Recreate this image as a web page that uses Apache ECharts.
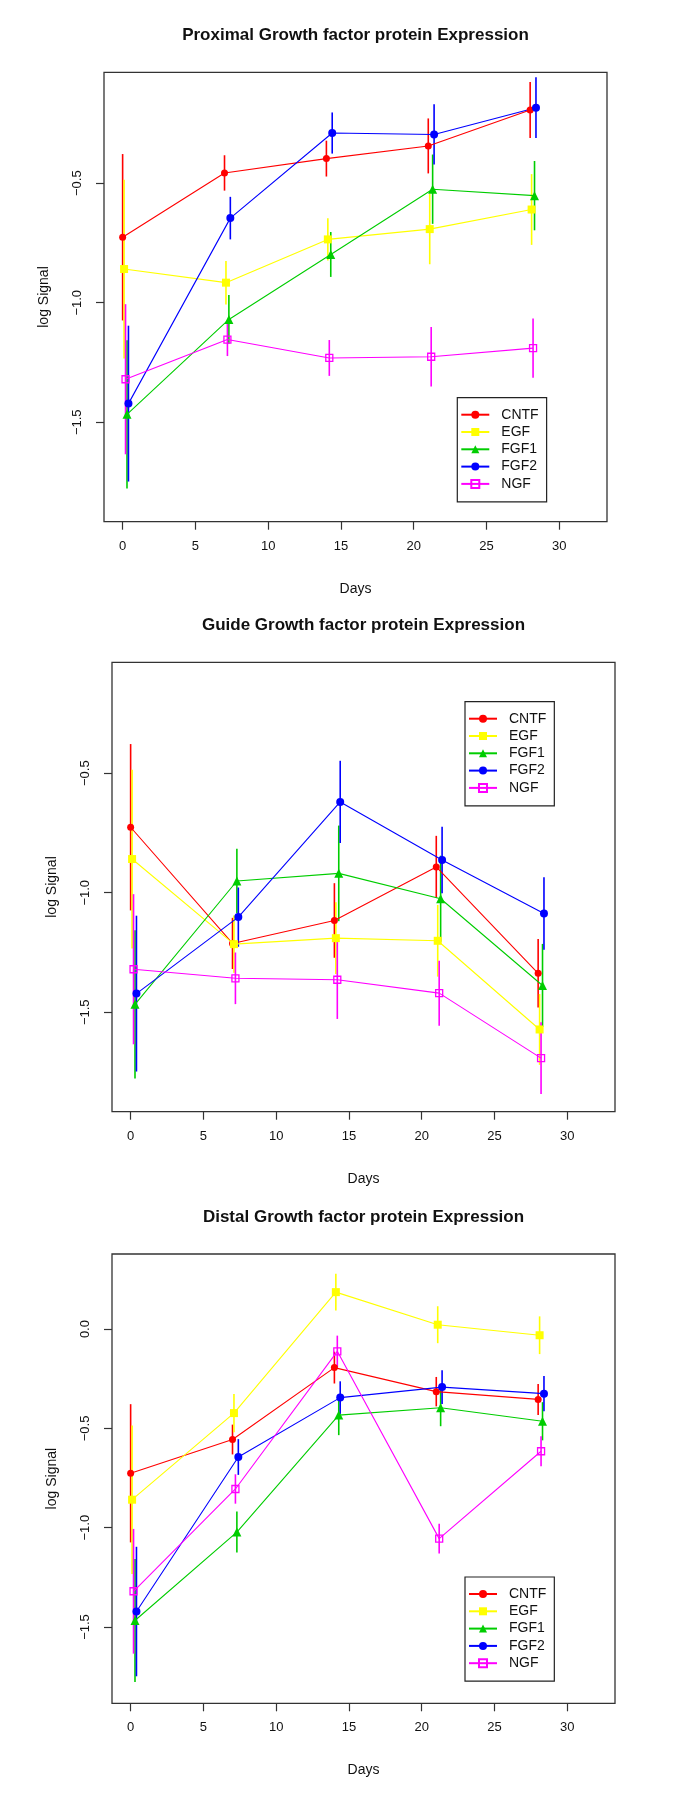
<!DOCTYPE html>
<html><head><meta charset="utf-8">
<script src="https://cdn.jsdelivr.net/npm/echarts@6/dist/echarts.min.js"></script>
<style>html,body{margin:0;padding:0;background:#fff}#c{width:685px;height:1810px}</style>
</head><body><div id="c"></div>
<script>
// ---------- data ----------
const genes = ['CNTF', 'EGF', 'FGF1', 'FGF2', 'NGF'];
const panelTitles = [
  'Proximal Growth factor protein Expression',
  'Guide Growth factor protein Expression',
  'Distal Growth factor protein Expression'
];
const xTicks = [0, 5, 10, 15, 20, 25, 30];
const yTicksProx = [-1.5, -1.0, -0.5];
const yTicksGuide = [-1.5, -1.0, -0.5];
const yTicksDist = [-1.5, -1.0, -0.5, 0.0];

// sampling days (each gene slightly offset in the original plot)
const xCNTF = [0, 7, 14, 21, 28];
const xEGF = [0.1, 7.1, 14.1, 21.1, 28.1];
const xFGF1 = [0.3, 7.3, 14.3, 21.3, 28.3];
const xFGF2 = [0.4, 7.4, 14.4, 21.4, 28.4];
const xNGF = [0.2, 7.2, 14.2, 21.2, 28.2];

// Proximal: mean log signal and error half-width
const proxCNTF = [-0.726, -0.457, -0.397, -0.344, -0.194];
const proxCNTFErr = [0.348, 0.074, 0.075, 0.115, 0.117];
const proxEGF = [-0.859, -0.916, -0.735, -0.692, -0.610];
const proxEGFErr = [0.374, 0.091, 0.088, 0.147, 0.148];
const proxFGF1 = [-1.467, -1.070, -0.798, -0.525, -0.552];
const proxFGF1Err = [0.310, 0.102, 0.094, 0.145, 0.145];
const proxFGF2 = [-1.422, -0.646, -0.290, -0.296, -0.184];
const proxFGF2Err = [0.326, 0.089, 0.086, 0.126, 0.127];
const proxNGF = [-1.320, -1.154, -1.231, -1.226, -1.190];
const proxNGFErr = [0.314, 0.069, 0.075, 0.124, 0.124];

// Guide
const guideCNTF = [-0.726, -1.212, -1.116, -0.892, -1.337];
const guideCNTFErr = [0.348, 0.107, 0.156, 0.130, 0.143];
const guideEGF = [-0.859, -1.215, -1.190, -1.201, -1.572];
const guideEGFErr = [0.374, 0.120, 0.150, 0.150, 0.148];
const guideFGF1 = [-1.467, -0.951, -0.919, -1.025, -1.388];
const guideFGF1Err = [0.310, 0.135, 0.200, 0.180, 0.174];
const guideFGF2 = [-1.422, -1.102, -0.620, -0.863, -1.087];
const guideFGF2Err = [0.326, 0.124, 0.172, 0.139, 0.152];
const guideNGF = [-1.320, -1.358, -1.364, -1.420, -1.692];
const guideNGFErr = [0.314, 0.108, 0.164, 0.136, 0.150];

// Distal
const distCNTF = [-0.726, -0.556, -0.194, -0.315, -0.354];
const distCNTFErr = [0.348, 0.075, 0.080, 0.074, 0.078];
const distEGF = [-0.859, -0.423, 0.186, 0.022, -0.031];
const distEGFErr = [0.374, 0.096, 0.092, 0.093, 0.095];
const distFGF1 = [-1.467, -1.022, -0.433, -0.396, -0.464];
const distFGF1Err = [0.310, 0.103, 0.101, 0.093, 0.096];
const distFGF2 = [-1.422, -0.644, -0.345, -0.292, -0.325];
const distFGF2Err = [0.326, 0.090, 0.082, 0.085, 0.089];
const distNGF = [-1.320, -0.805, -0.112, -1.055, -0.615];
const distNGFErr = [0.314, 0.074, 0.079, 0.075, 0.075];

// ---------- assembly ----------
const xs = [xCNTF, xEGF, xFGF1, xFGF2, xNGF];
const panels = [
  { means: [proxCNTF, proxEGF, proxFGF1, proxFGF2, proxNGF], errs: [proxCNTFErr, proxEGFErr, proxFGF1Err, proxFGF2Err, proxNGFErr], yTicks: yTicksProx },
  { means: [guideCNTF, guideEGF, guideFGF1, guideFGF2, guideNGF], errs: [guideCNTFErr, guideEGFErr, guideFGF1Err, guideFGF2Err, guideNGFErr], yTicks: yTicksGuide },
  { means: [distCNTF, distEGF, distFGF1, distFGF2, distNGF], errs: [distCNTFErr, distEGFErr, distFGF1Err, distFGF2Err, distNGFErr], yTicks: yTicksDist }
];

const FONT = 'Liberation Sans, Arial, sans-serif';
const colors = ['#FF0000', '#FFFF00', '#00CD00', '#0000FF', '#FF00FF'];
const symbols = ['circle', 'rect', 'triangle', 'circle', 'rect'];
const symSizes = [7, 8, 9, 8, 7];

const layout = [
  { left: 104, top: 72.3, width: 503, height: 449.4, yMin: -1.916, yMax: -0.036, titleY: 27, legL: 457.3, legT: 397.7 },
  { left: 112, top: 662.3, width: 503, height: 449.4, yMin: -1.916, yMax: -0.036, titleY: 617, legL: 465, legT: 701.7 },
  { left: 112, top: 1254, width: 503, height: 449.3, yMin: -1.884, yMax: 0.378, titleY: 1209, legL: 465, legT: 1577 }
];

const fmt = v => (Math.abs(v) < 1e-9 ? '0.0' : v.toFixed(1).replace('-', '\u2212'));

const option = {
  backgroundColor: '#ffffff',
  animation: false,
  title: [], grid: [], xAxis: [], yAxis: [], legend: [], series: []
};

panels.forEach((p, pi) => {
  const L = layout[pi];
  option.title.push({
    text: panelTitles[pi], left: L.left + L.width / 2, top: L.titleY, textAlign: 'center', padding: 0,
    textStyle: { fontFamily: FONT, fontSize: 17, fontWeight: 'bold', color: '#111' }
  });
  option.grid.push({
    left: L.left, top: L.top, width: L.width, height: L.height,
    show: true, borderColor: '#333', borderWidth: 1.3, backgroundColor: 'transparent'
  });
  option.xAxis.push({
    type: 'value', gridIndex: pi, min: -1.28, max: 33.28, position: 'bottom',
    axisLine: { show: false, onZero: false },
    axisTick: { show: true, length: 8, customValues: xTicks, lineStyle: { color: '#333', width: 1.2 } },
    axisLabel: { customValues: xTicks, margin: 18, fontFamily: FONT, fontSize: 13, color: '#111' },
    splitLine: { show: false },
    name: 'Days', nameLocation: 'middle', nameGap: 60,
    nameTextStyle: { fontFamily: FONT, fontSize: 14, color: '#111' }
  });
  option.yAxis.push({
    type: 'value', gridIndex: pi, min: L.yMin, max: L.yMax, position: 'left',
    axisLine: { show: false, onZero: false },
    axisTick: { show: true, length: 8, customValues: p.yTicks, lineStyle: { color: '#333', width: 1.2 } },
    axisLabel: { customValues: p.yTicks, rotate: 90, margin: 20, formatter: fmt, fontFamily: FONT, fontSize: 13, color: '#111' },
    splitLine: { show: false },
    name: 'log Signal', nameLocation: 'middle', nameGap: 53, nameRotate: 90,
    nameTextStyle: { fontFamily: FONT, fontSize: 14, color: '#111' }
  });
  option.legend.push({
    orient: 'vertical', left: L.legL, top: L.legT,
    padding: [10, 8, 11, 3], itemGap: 3.3, itemWidth: 28, itemHeight: 10,
    borderColor: '#222', borderWidth: 1.2, backgroundColor: '#fff',
    selectedMode: false, data: genes,
    textStyle: { fontFamily: FONT, fontSize: 14, color: '#111', padding: [0, 0, 0, 7] }
  });
  genes.forEach((g, gi) => {
    const isOpen = gi === 4;
    const pts = xs[gi].map((x, k) => [x, p.means[gi][k]]);
    option.series.push({
      type: 'line', name: g, xAxisIndex: pi, yAxisIndex: pi,
      data: pts, symbol: symbols[gi], symbolSize: symSizes[gi],
      lineStyle: { color: colors[gi], width: 1.1 },
      itemStyle: isOpen
        ? { color: 'rgba(255,0,255,0)', borderColor: colors[gi], borderWidth: 1.3 }
        : { color: colors[gi] },
      emphasis: { disabled: true }, z: 3
    });
    const bars = xs[gi].map((x, k) => [x, p.means[gi][k] - p.errs[gi][k], p.means[gi][k] + p.errs[gi][k]]);
    const col = colors[gi];
    option.series.push({
      type: 'custom', name: g + ' error', xAxisIndex: pi, yAxisIndex: pi,
      data: bars, encode: { x: 0, y: [1, 2] }, z: 3,
      renderItem: (params, api) => {
        const a = api.coord([api.value(0), api.value(1)]);
        const b = api.coord([api.value(0), api.value(2)]);
        return { type: 'line', shape: { x1: a[0], y1: a[1], x2: b[0], y2: b[1] }, style: { stroke: col, lineWidth: 1.6 } };
      }
    });
  });
});

const chart = echarts.init(document.getElementById('c'), null, { renderer: 'canvas' });
chart.setOption(option);
</script>
</body></html>
